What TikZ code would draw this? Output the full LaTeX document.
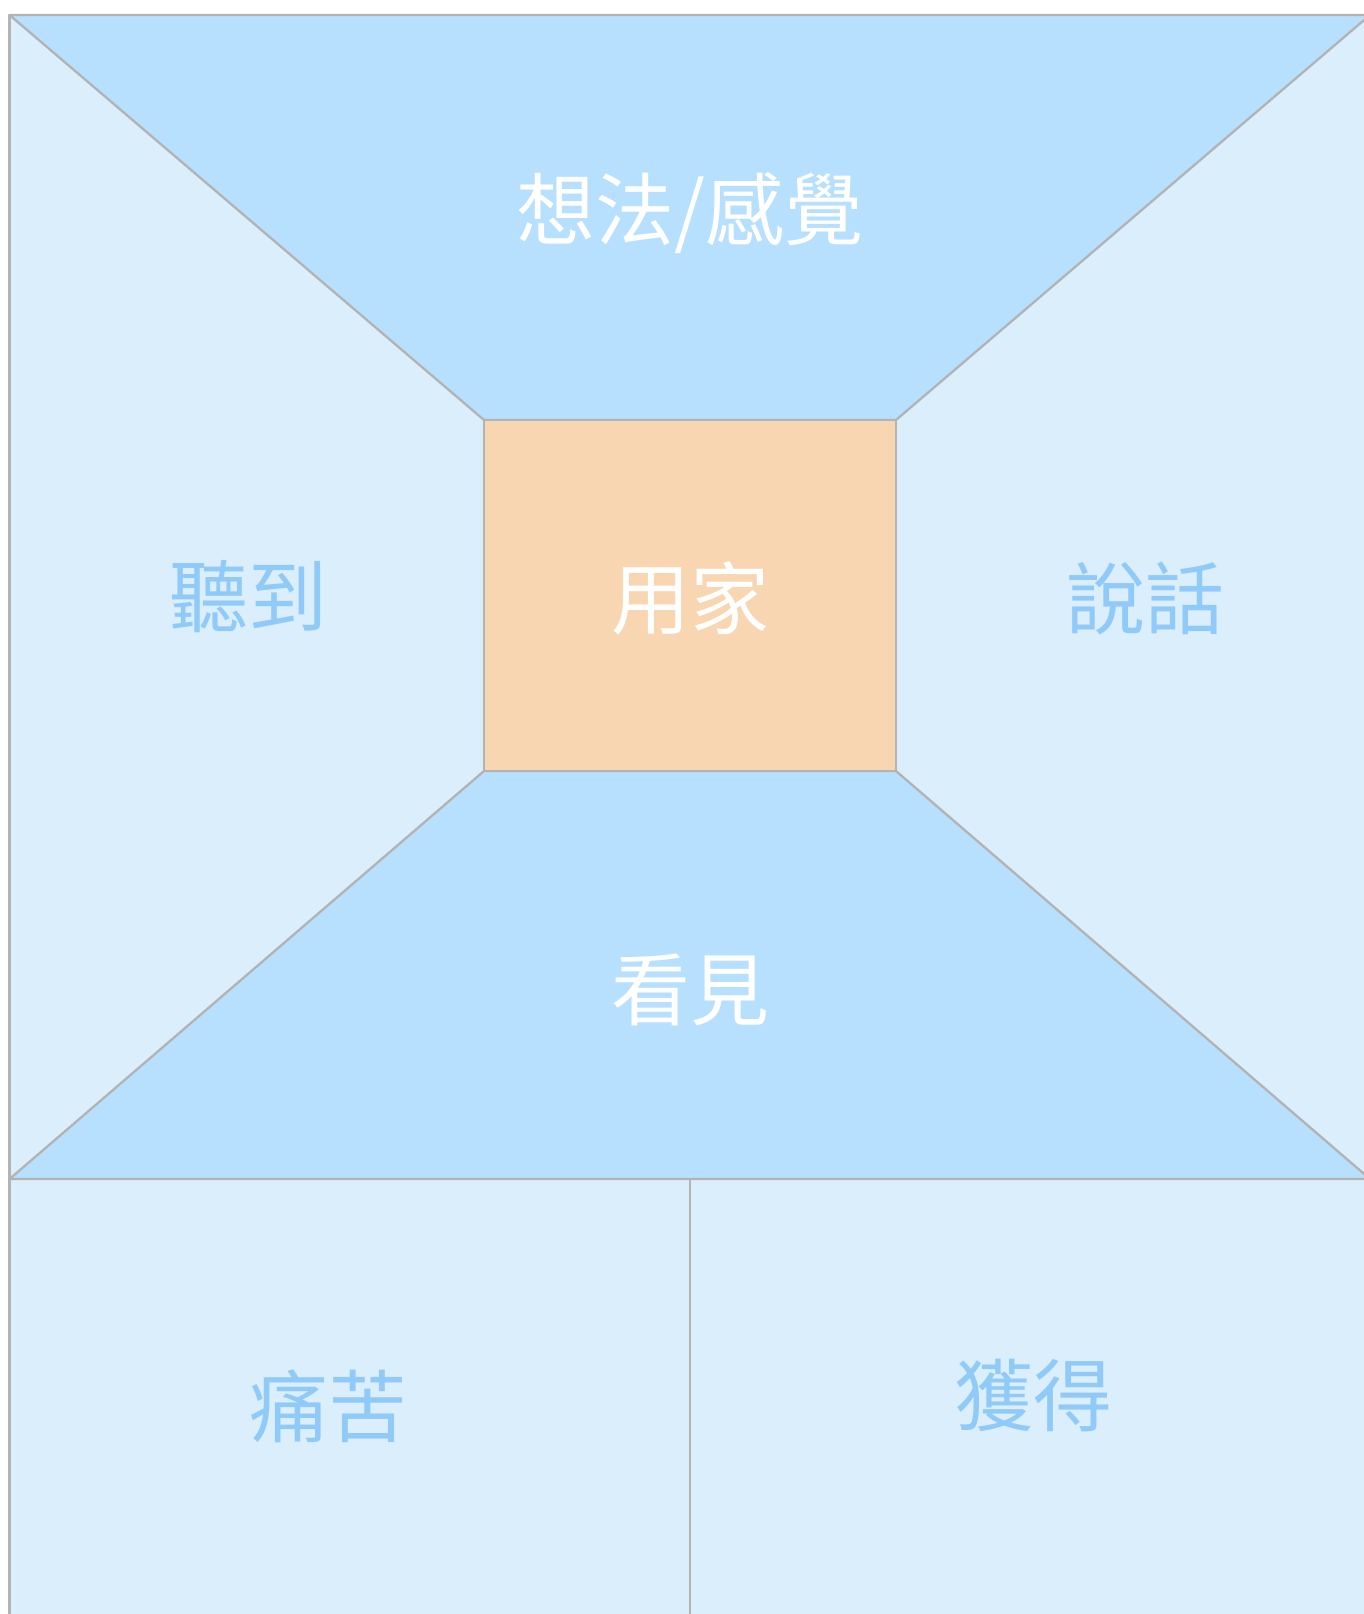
\documentclass[tikz,border=0pt]{standalone}
\usepackage{fontspec}
\usepackage{xcolor}
\newfontfamily\cjk{Noto Sans CJK TC}
\usetikzlibrary{positioning}

\definecolor{sideblue}{HTML}{DAEEFC}
\definecolor{midblue}{HTML}{B7DFFE}
\definecolor{userorange}{HTML}{F8D6B2}
\definecolor{edgegray}{HTML}{B3B3B3}
\definecolor{labelblue}{HTML}{90CAF9}

\begin{document}
\begin{tikzpicture}[x=1pt, y=-1pt,
        area/.style={draw=edgegray, line width=2.3pt, line join=round},
        darklabel/.style={text=white, font=\cjk\fontsize{79}{94}\selectfont},
        lightlabel/.style={text=labelblue, font=\cjk\fontsize{79}{94}\selectfont}]
        \useasboundingbox (0, 0) rectangle (1363, 1614);

        % corners
        \coordinate (tl) at (9.5, 15);
        \coordinate (tr) at (1370, 15);
        \coordinate (ml) at (9.5, 1179);
        \coordinate (mr) at (1370, 1179);
        \coordinate (bl) at (9.5, 1640);
        \coordinate (br) at (1370, 1640);
        \coordinate (bm) at (690, 1640);
        \coordinate (mm) at (690, 1179);
        \coordinate (ia) at (484, 420);
        \coordinate (ib) at (896, 420);
        \coordinate (ic) at (896, 771);
        \coordinate (id) at (484, 771);

        \fill[sideblue] (tl) rectangle (br);
        \filldraw[area, fill=midblue] (tl) -- (tr) -- (ib) -- (ia) -- cycle;
        \filldraw[area, fill=midblue] (id) -- (ic) -- (mr) -- (ml) -- cycle;
        \filldraw[area, fill=userorange] (ia) rectangle (ic);
        \draw[area] (ml) -- (tl) -- (tr)
            (ml) -- (bl)
            (mm) -- (bm);

        \node[darklabel] (thought) at (690, 213) {想法/感覺};
        \node[lightlabel] (hear) at (248, 597) {聽到};
        \node[darklabel] (user) at (690, 598) {用家};
        \node[lightlabel] (say) at (1145, 598) {說話};
        \node[darklabel] (see) at (690, 990) {看見};
        \node[lightlabel] (pain) at (328, 1406) {痛苦};
        \node[lightlabel] (gain) at (1033, 1396) {獲得};
\end{tikzpicture}
\end{document}
